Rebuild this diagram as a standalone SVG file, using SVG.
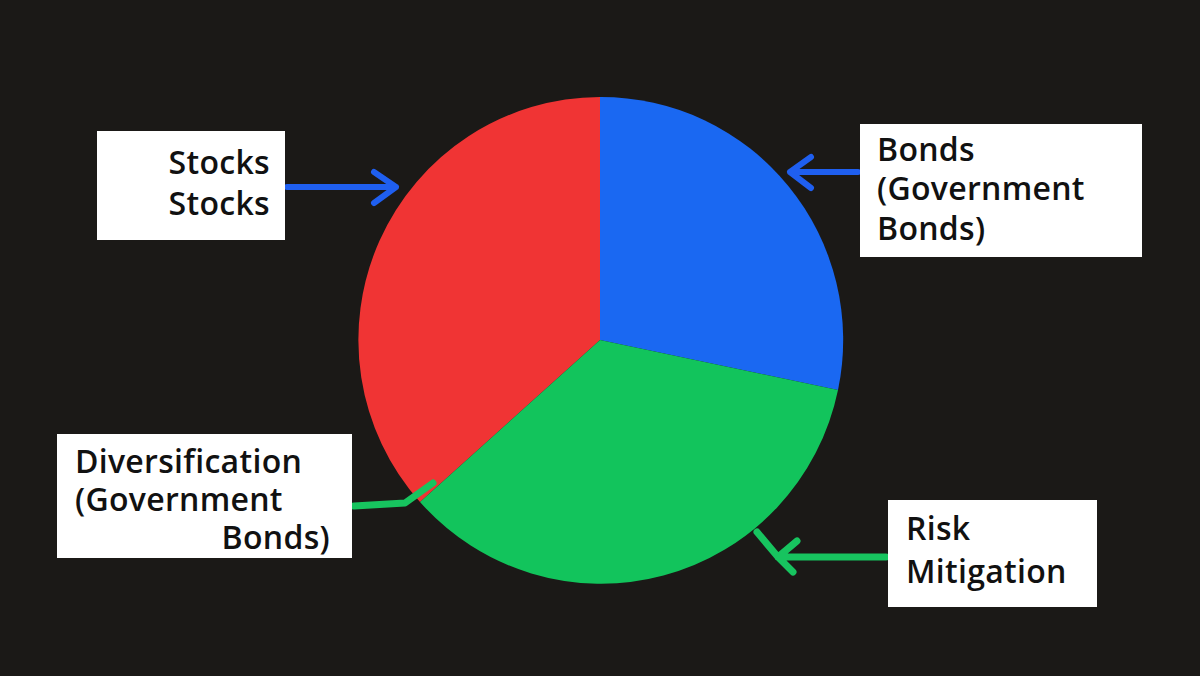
<svg xmlns="http://www.w3.org/2000/svg" width="1200" height="676" viewBox="0 0 1200 676">
<style>
.box{fill:#fff}
.t{font-family:"Open Sans",sans-serif;font-weight:600;font-size:32px;letter-spacing:0.3px;fill:#111}
.b{stroke:#1f5ff0;stroke-width:6;fill:none;stroke-linecap:round;stroke-linejoin:round}
.g{stroke:#17c45f;stroke-width:7;fill:none;stroke-linecap:round;stroke-linejoin:round}
</style>
<rect width="1200" height="676" fill="#1b1917"/>
<g id="pie">
<path d="M600,340 L600,97 A242,243 0 0 0 420,502 Z" fill="#f03434"/>
<path d="M600,340 L600,97 A242,243 0 0 1 838,390 Z" fill="#1a68f2"/>
<path d="M600,340 L838,390 A242,243 0 0 1 420,502 Z" fill="#12c45c"/>
</g>
<g id="connectors">
<path class="b" d="M287,187 L396,187 M374,172 L396,187 L374,203"/>
<path class="b" d="M858,172 L790,172 M811,157 L790,172 L811,188"/>
<path class="g" d="M354,506 L405,503 L433,483"/>
<path class="g" d="M886,557 L778,557 M797,541 L778,557 L793,572 M757,532 L778,557"/>
</g>
<g id="stocks"><rect class="box" x="97" y="131" width="188" height="109"/>
<text class="t" text-anchor="end" x="270" y="174">Stocks</text><text class="t" text-anchor="end" x="270" y="215">Stocks</text></g>
<g id="bonds"><rect class="box" x="860" y="124" width="282" height="133"/>
<text class="t" x="877" y="161">Bonds</text><text class="t" x="877" y="200">(Government</text><text class="t" x="877" y="240">Bonds)</text></g>
<g id="diversification"><rect class="box" x="57" y="434" width="295" height="124"/>
<text class="t" x="75" y="473">Diversification</text><text class="t" x="75" y="511">(Government</text><text class="t" text-anchor="end" x="330" y="549">Bonds)</text></g>
<g id="risk"><rect class="box" x="888" y="500" width="209" height="107"/>
<text class="t" x="906" y="540">Risk</text><text class="t" x="906" y="583">Mitigation</text></g>
</svg>
